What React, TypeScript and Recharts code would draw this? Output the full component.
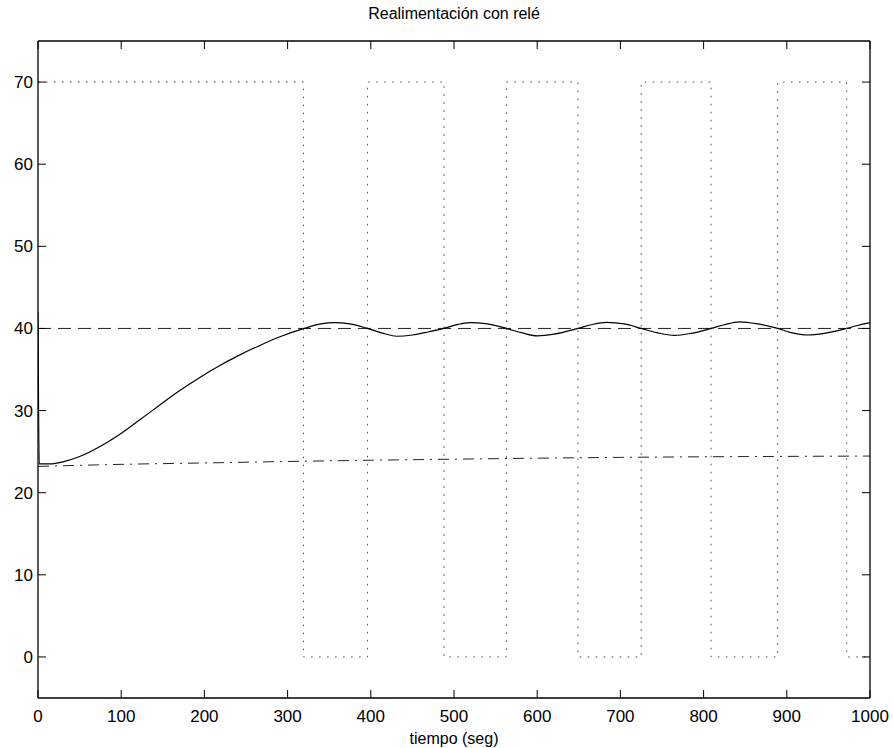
import { LineChart, Line, XAxis, YAxis } from 'recharts'

// respuesta del proceso (linea continua)
const tResp = [0, 1.5, 15, 30, 50, 74, 98, 122, 146, 170, 194, 218, 242, 266, 290, 320, 340, 355, 375, 396, 415, 431, 450, 470, 488, 505, 519, 540, 563, 582, 600, 620, 649, 665, 683, 705, 725, 745, 765, 785, 809, 825, 843, 865, 889, 905, 925, 945, 972, 990, 1000]
const vResp = [42, 23.5, 23.5, 23.75, 24.4, 25.6, 27.1, 28.85, 30.65, 32.4, 34.0, 35.45, 36.75, 37.9, 38.95, 40.0, 40.55, 40.72, 40.55, 40.0, 39.4, 39.05, 39.2, 39.6, 40.0, 40.5, 40.7, 40.55, 40.0, 39.45, 39.1, 39.3, 40.0, 40.45, 40.75, 40.55, 40.0, 39.45, 39.15, 39.4, 40.0, 40.45, 40.8, 40.55, 40.0, 39.5, 39.2, 39.4, 40.0, 40.5, 40.72]

// salida del relé (punteada)
const tRele = [0, 319, 396, 488, 563, 649, 725, 809, 889, 972, 1000]
const vRele = [70, 0, 70, 0, 70, 0, 70, 0, 70, 0, 0]

// referencia (discontinua)
const tRef = [0, 1000]
const vRef = [40, 40]

// perturbación / ambiente (punto-raya)
const tAmb = [0, 100, 200, 300, 400, 500, 600, 700, 800, 900, 1000]
const vAmb = [23.2, 23.45, 23.62, 23.8, 23.95, 24.08, 24.2, 24.3, 24.37, 24.42, 24.46]

const xTicks = [0, 100, 200, 300, 400, 500, 600, 700, 800, 900, 1000]
const yTicks = [0, 10, 20, 30, 40, 50, 60, 70]

const zip = (t: number[], v: number[]) => t.map((x, i) => ({ t: x, v: v[i] }))

const resp = zip(tResp, vResp)
const rele = zip(tRele, vRele)
const ref = zip(tRef, vRef)
const amb = zip(tAmb, vAmb)

const font = { fontFamily: 'Liberation Sans, Arial, sans-serif', fontSize: 17, fill: '#000' }
const axisLine = { stroke: '#000', strokeWidth: 1.3 }
const tickLine = { stroke: '#000', strokeWidth: 1 }

// ejes espejo (arriba/derecha): solo marcas, sin texto
const NoLabel = () => <g />

export default function App() {
  return (
    <div style={{ position: 'absolute', left: 0, top: 0, width: 893, height: 748, background: '#fff' }}>
      <LineChart width={893} height={748} margin={{ top: 40, right: 22, bottom: 0, left: 0 }}>
        <XAxis
          xAxisId="x"
          dataKey="t"
          type="number"
          domain={[0, 1000]}
          ticks={xTicks}
          allowDataOverflow
          height={50}
          tickSize={-8}
          tickMargin={20}
          tick={font}
          axisLine={axisLine}
          tickLine={tickLine}
          label={{ value: 'tiempo (seg)', position: 'insideBottom', offset: 4, style: { ...font, fontSize: 16 } }}
        />
        <XAxis
          xAxisId="top"
          orientation="top"
          dataKey="t"
          type="number"
          domain={[0, 1000]}
          ticks={xTicks}
          allowDataOverflow
          height={1}
          tickSize={-8}
          tick={NoLabel}
          axisLine={axisLine}
          tickLine={tickLine}
          label={{ value: 'Realimentación con relé', position: 'top', offset: 21, style: { ...font, fontSize: 16 } }}
        />
        <YAxis
          yAxisId="y"
          type="number"
          domain={[-5, 75]}
          ticks={yTicks}
          allowDataOverflow
          width={38}
          tickSize={-8}
          tickMargin={13}
          tick={font}
          axisLine={axisLine}
          tickLine={tickLine}
        />
        <YAxis
          yAxisId="right"
          orientation="right"
          type="number"
          domain={[-5, 75]}
          ticks={yTicks}
          allowDataOverflow
          width={1}
          tickSize={-8}
          tick={NoLabel}
          axisLine={axisLine}
          tickLine={tickLine}
        />
        <Line xAxisId="top" yAxisId="right" data={ref} dataKey="v" type="linear" stroke="none" dot={false} legendType="none" isAnimationActive={false} />
        <Line xAxisId="x" yAxisId="y" data={rele} dataKey="v" type="stepAfter" stroke="#444" strokeWidth={1} strokeDasharray="1.5 6.5" dot={false} isAnimationActive={false} />
        <Line xAxisId="x" yAxisId="y" data={ref} dataKey="v" type="linear" stroke="#222" strokeWidth={1} strokeDasharray="13 7" dot={false} isAnimationActive={false} />
        <Line xAxisId="x" yAxisId="y" data={amb} dataKey="v" type="monotone" stroke="#222" strokeWidth={1} strokeDasharray="11 6 2 6" dot={false} isAnimationActive={false} />
        <Line xAxisId="x" yAxisId="y" data={resp} dataKey="v" type="monotone" stroke="#000" strokeWidth={1.2} dot={false} isAnimationActive={false} />
      </LineChart>
    </div>
  )
}
